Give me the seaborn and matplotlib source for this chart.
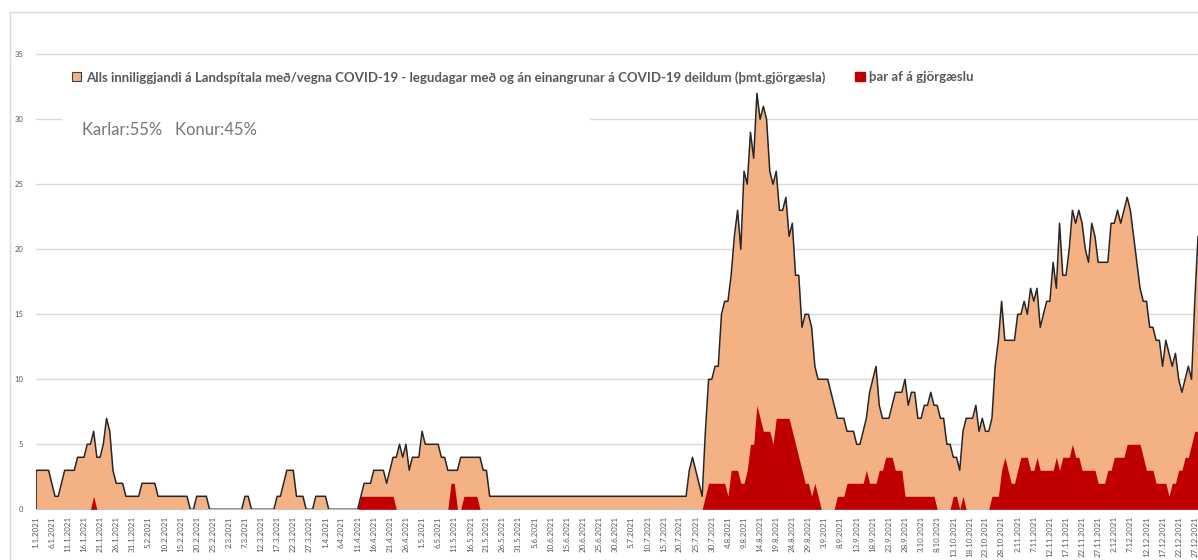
import pandas as pd
import seaborn as sns
import matplotlib.pyplot as plt
from matplotlib.patches import Patch, Rectangle

# daily values 1.1.2021 - 28.12.2021
total_jan = [3,3,3,3,3,2,1,1,2,3,3,3,3,4,4,4,5,5,6,4,4,5,7,6,3,2,2,2,1,1,1]
total_feb = [1,1,2,2,2,2,2,1,1,1,1,1,1,1,1,1,1,0,0,1,1,1,1,0,0,0,0,0]
total_mar = [0,0,0,0,0,0,1,1,0,0,0,0,0,0,0,0,1,1,2,3,3,3,1,1,1,0,0,0,1,1,1]
total_apr = [1,0,0,0,0,0,0,0,0,0,0,1,2,2,2,3,3,3,3,2,3,4,4,5,4,5,3,4,4,4]
total_may = [6,5,5,5,5,5,4,4,3,3,3,3,4,4,4,4,4,4,4,3,3,1,1,1,1,1,1,1,1,1,1]
total_jun = [1,1,1,1,1,1,1,1,1,1,1,1,1,1,1,1,1,1,1,1,1,1,1,1,1,1,1,1,1,1]
total_jul = [1,1,1,1,1,1,1,1,1,1,1,1,1,1,1,1,1,1,1,1,1,1,3,4,3,2,1,6,10,10,11]
total_aug = [11,15,16,16,18,21,23,20,26,25,29,27,32,30,31,30,26,25,26,23,23,24,21,22,18,18,14,15,15,14,11]
total_sep = [10,10,10,10,9,8,7,7,7,6,6,6,5,5,6,7,9,10,11,8,7,7,7,8,9,9,9,10,8,9]
total_oct = [9,7,7,8,8,9,8,8,7,7,5,5,4,4,3,6,7,7,7,8,6,7,6,6,7,11,13,16,13,13,13]
total_nov = [13,15,15,16,15,17,16,17,14,15,16,16,19,17,22,18,18,20,23,22,23,22,20,19,22,21,19,19,19,19]
total_dec = [22,22,23,22,23,24,23,21,19,17,16,16,14,14,13,13,11,13,12,11,12,10,9,10,11,10,16,21]

icu_jan = [0,0,0,0,0,0,0,0,0,0,0,0,0,0,0,0,0,0,1,0,0,0,0,0,0,0,0,0,0,0,0]
icu_feb = [0,0,0,0,0,0,0,0,0,0,0,0,0,0,0,0,0,0,0,0,0,0,0,0,0,0,0,0]
icu_mar = [0,0,0,0,0,0,0,0,0,0,0,0,0,0,0,0,0,0,0,0,0,0,0,0,0,0,0,0,0,0,0]
icu_apr = [0,0,0,0,0,0,0,0,0,0,0,1,1,1,1,1,1,1,1,1,1,1,0,0,0,0,0,0,0,0]
icu_may = [0,0,0,0,0,0,0,0,0,2,2,0,0,1,1,1,1,1,0,0,0,0,0,0,0,0,0,0,0,0,0]
icu_jun = [0,0,0,0,0,0,0,0,0,0,0,0,0,0,0,0,0,0,0,0,0,0,0,0,0,0,0,0,0,0]
icu_jul = [0,0,0,0,0,0,0,0,0,0,0,0,0,0,0,0,0,0,0,0,0,0,0,0,0,0,0,1,2,2,2]
icu_aug = [2,2,2,1,3,3,3,2,2,3,5,5,8,7,6,6,6,5,7,7,7,7,7,6,5,4,3,2,2,1,2]
icu_sep = [1,0,0,0,0,0,1,1,1,2,2,2,2,2,2,3,2,2,2,3,3,4,4,4,3,3,3,1,1,1]
icu_oct = [1,1,1,1,1,1,1,0,0,0,0,0,1,1,0,1,0,0,0,0,0,0,0,0,1,1,1,3,4,3,2]
icu_nov = [2,3,4,4,4,3,3,4,3,3,3,3,3,4,3,4,4,4,5,4,4,3,3,3,3,3,2,2,2,3]
icu_dec = [3,4,4,4,4,5,5,5,5,5,4,3,3,3,2,2,2,2,1,2,2,3,3,4,4,5,6,6]

total = (total_jan + total_feb + total_mar + total_apr + total_may + total_jun
         + total_jul + total_aug + total_sep + total_oct + total_nov + total_dec)
icu = (icu_jan + icu_feb + icu_mar + icu_apr + icu_may + icu_jun
       + icu_jul + icu_aug + icu_sep + icu_oct + icu_nov + icu_dec)

df = pd.DataFrame({'date': pd.date_range('2021-01-01', periods=len(total), freq='D'),
                   'total': total, 'icu': icu})

label_total = ('Alls inniliggjandi á Landspítala með/vegna COVID-19 - legudagar með og án '
               'einangrunar á COVID-19 deildum (þmt.gjörgæsla)')
label_icu = 'þar af á gjörgæslu'

ORANGE = '#F4B183'
RED = '#C00000'
GREY = '#595959'

sns.set_style('white')
plt.rcParams['font.family'] = ['Lato', 'DejaVu Sans']

W, H = 1198, 560
fig = plt.figure(figsize=(W / 100, H / 100), dpi=100)
ax = fig.add_axes([35.7 / W, (H - 509.3) / H, 1 - 35.7 / W, (509.3 - 53) / H])

# chart frame and white text box over the gridline
fig.patches.append(Rectangle((10 / W, -0.1), 1.2, (H - 12) / H + 0.1, transform=fig.transFigure,
                             fill=False, edgecolor='#d9d9d9', lw=1, zorder=0))

ax.fill_between(df['date'], df['total'], color=ORANGE, lw=0, zorder=2)
ax.fill_between(df['date'], df['icu'], color=RED, lw=0, zorder=3)
sns.lineplot(data=df, x='date', y='total', color='#262626', lw=1.1, ax=ax, zorder=4)
ax.vlines(df['date'].iloc[0], 0, df['total'].iloc[0], color='#262626', lw=1.2, zorder=4)

ax.set_xlim(df['date'].iloc[0], df['date'].iloc[-1])
ax.set_ylim(0, 35.1)
ax.set_yticks(range(0, 36, 5))
ticks = df['date'].iloc[::5]
ax.set_xticks(ticks)
ax.set_xticklabels([f'{d.day}.{d.month}.{d.year}' for d in ticks], rotation=90)
ax.tick_params(axis='x', length=3, width=0.6, color='#bfbfbf', labelsize=5.7,
               labelcolor=GREY, pad=2)
ax.tick_params(axis='y', length=0, labelsize=5.5, labelcolor=GREY, pad=9)
ax.set_xlabel('')
ax.set_ylabel('')
ax.grid(axis='y', color='#d9d9d9', lw=1)
ax.set_axisbelow(True)
for s in ['top', 'right', 'left']:
    ax.spines[s].set_visible(False)
ax.spines['bottom'].set_color('#bfbfbf')
ax.spines['bottom'].set_linewidth(0.8)

ax.add_patch(Rectangle((62 / W, 1 - 150 / H), (590 - 62) / W, 45 / H, transform=fig.transFigure,
                       facecolor='white', edgecolor='none', zorder=1))
fig.text(82 / W, 1 - 130 / H, 'Karlar:55%   Konur:45%', ha='left', va='center',
         fontsize=12, color='#767676')

handles = [Patch(facecolor=ORANGE, edgecolor='#404040', lw=0.8, label=label_total),
           Patch(facecolor=RED, edgecolor=RED, label=label_icu)]
fig.legend(handles=handles, loc='upper left', bbox_to_anchor=(60 / W, 1 - 59 / H), ncol=2,
           frameon=False, prop={'weight': 'bold', 'size': 9.5}, labelcolor=GREY,
           handlelength=0.7, handleheight=0.7, handletextpad=0.35, columnspacing=2.3)

fig.savefig('out.png', dpi=100)
